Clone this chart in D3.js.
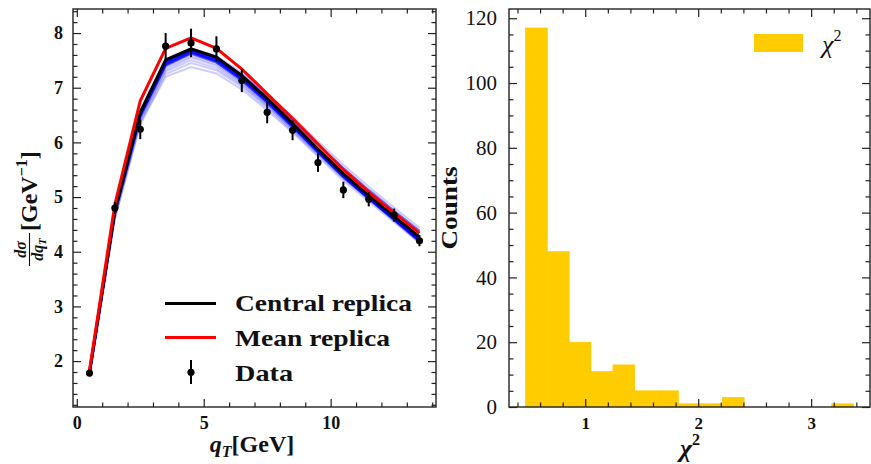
<!DOCTYPE html>
<html><head><meta charset="utf-8">
<script src="https://cdn.jsdelivr.net/npm/d3@7"></script>
<style>body{margin:0;background:#fff}</style>
</head><body>
<svg id="c" width="871" height="464" xmlns="http://www.w3.org/2000/svg"></svg>
<script>
// ---------------- data ----------------
const qT = [0.5, 1.5, 2.5, 3.5, 4.5, 5.5, 6.5, 7.5, 8.5, 9.5, 10.5, 11.5, 12.5, 13.5];
const dataY = [1.78, 4.80, 6.24, 7.76, 7.82, 7.71, 7.13, 6.55, 6.22, 5.63, 5.13, 4.96, 4.67, 4.20];
const dataErr = [0.05, 0.11, 0.18, 0.24, 0.26, 0.23, 0.21, 0.20, 0.18, 0.17, 0.15, 0.13, 0.12, 0.10];
const centralReplica = [1.80, 4.75, 6.55, 7.51, 7.71, 7.56, 7.22, 6.80, 6.35, 5.88, 5.43, 5.03, 4.65, 4.27];
const meanReplica = [1.83, 4.87, 6.76, 7.72, 7.91, 7.72, 7.34, 6.89, 6.44, 5.97, 5.50, 5.09, 4.71, 4.34];
// replicas lying close to the central one (dense core of the band)
const replica01 = [1.78, 4.72, 6.50, 7.45, 7.66, 7.50, 7.17, 6.75, 6.30, 5.84, 5.39, 4.99, 4.60, 4.21];
const replica02 = [1.76, 4.70, 6.47, 7.40, 7.62, 7.46, 7.13, 6.72, 6.28, 5.82, 5.37, 4.97, 4.58, 4.19];
const replica03 = [1.79, 4.73, 6.52, 7.47, 7.69, 7.53, 7.20, 6.78, 6.33, 5.87, 5.42, 5.02, 4.62, 4.23];
const replica06 = [1.81, 4.77, 6.56, 7.50, 7.70, 7.55, 7.24, 6.84, 6.41, 5.96, 5.53, 5.13, 4.75, 4.38];
const replica09 = [1.77, 4.71, 6.49, 7.42, 7.64, 7.48, 7.15, 6.74, 6.29, 5.83, 5.38, 4.98, 4.59, 4.20];
const replica11 = [1.80, 4.74, 6.53, 7.48, 7.70, 7.54, 7.21, 6.79, 6.34, 5.88, 5.43, 5.03, 4.64, 4.25];
const replica13 = [1.79, 4.73, 6.51, 7.46, 7.67, 7.52, 7.19, 6.77, 6.32, 5.85, 5.40, 5.00, 4.61, 4.22];
const replica14 = [1.78, 4.72, 6.49, 7.43, 7.65, 7.49, 7.16, 6.76, 6.31, 5.85, 5.41, 5.01, 4.62, 4.23];
// replicas further out (faint outer part of the band)
const replica04 = [1.74, 4.66, 6.42, 7.33, 7.55, 7.40, 7.08, 6.68, 6.25, 5.80, 5.36, 4.97, 4.59, 4.21];
const replica05 = [1.72, 4.62, 6.36, 7.25, 7.45, 7.32, 7.02, 6.63, 6.21, 5.77, 5.34, 4.96, 4.58, 4.20];
const replica07 = [1.83, 4.80, 6.58, 7.52, 7.72, 7.58, 7.27, 6.88, 6.46, 6.02, 5.59, 5.19, 4.81, 4.44];
const replica08 = [1.70, 4.60, 6.33, 7.20, 7.38, 7.26, 6.97, 6.59, 6.18, 5.74, 5.30, 4.92, 4.54, 4.16];
const replica10 = [1.75, 4.68, 6.45, 7.37, 7.58, 7.43, 7.10, 6.70, 6.26, 5.81, 5.36, 4.96, 4.57, 4.17];
const replica12 = [1.73, 4.64, 6.40, 7.30, 7.50, 7.36, 7.05, 6.66, 6.23, 5.79, 5.35, 4.96, 4.57, 4.18];
const coreReplicas = [replica01, replica02, replica03, replica06, replica09, replica11, replica13, replica14];
const outerReplicas = [replica04, replica05, replica07, replica08, replica10, replica12];

const chi2BinEdges = [0.470, 0.664, 0.858, 1.051, 1.245, 1.439, 1.632, 1.826, 2.020,
                      2.214, 2.407, 2.601, 2.795, 2.989, 3.182, 3.376];
const chi2Counts = [117, 48, 20, 11, 13, 5, 5, 1, 1, 3, 0, 0, 0, 0, 1];

const leftXTicks = [0, 5, 10];
const leftYTicks = [2, 3, 4, 5, 6, 7, 8];
const rightXTicks = [1, 2, 3];
const rightYTicks = [0, 20, 40, 60, 80, 100, 120];

// ---------------- layout ----------------
const SERIF = "'Liberation Serif','DejaVu Serif',serif";
const svg = d3.select("#c");
const BL = {x0: 73, x1: 436, y0: 9, y1: 407};
const BR = {x0: 509, x1: 870, y0: 9, y1: 407};
const xL = d3.scaleLinear([-0.15, 14.15], [BL.x0, BL.x1]);
const yL = d3.scaleLinear([1.16, 8.44], [BL.y1, BL.y0]);
const xR = d3.scaleLinear([0.325, 3.521], [BR.x0, BR.x1]);
const yR = d3.scaleLinear([0, 122.85], [BR.y1, BR.y0]);

function drawAxes(box, x, y, xMaj, xMin, yMaj, yMin, xFont, yFont) {
  const g = svg.append("g");
  const MAJ = 8, MIN = 4.5;
  const mk = (axis, tr, vals, size, labels, pad) => {
    const a = axis.tickValues(vals).tickSizeInner(-size).tickSizeOuter(0).tickPadding(pad)
      .tickFormat(labels ? d3.format("d") : () => "");
    const s = g.append("g").attr("transform", tr).call(a);
    s.select(".domain").remove();
    s.selectAll("line").attr("stroke", "#222").attr("stroke-width", 1.2);
    return s;
  };
  const xb = mk(d3.axisBottom(x), `translate(0,${box.y1})`, xMaj, MAJ, true, xFont.pad);
  xb.attr("font-family", SERIF).attr("font-size", xFont.size);
  xb.selectAll("text").attr("font-weight", xFont.weight).attr("fill", "#111");
  mk(d3.axisBottom(x), `translate(0,${box.y1})`, xMin, MIN, false, 0);
  mk(d3.axisTop(x), `translate(0,${box.y0})`, xMaj, MAJ, false, 0);
  mk(d3.axisTop(x), `translate(0,${box.y0})`, xMin, MIN, false, 0);
  const yl = mk(d3.axisLeft(y), `translate(${box.x0},0)`, yMaj, MAJ, true, yFont.pad);
  yl.attr("font-family", SERIF).attr("font-size", yFont.size);
  yl.selectAll("text").attr("font-weight", yFont.weight).attr("fill", "#111");
  mk(d3.axisLeft(y), `translate(${box.x0},0)`, yMin, MIN, false, 0);
  mk(d3.axisRight(y), `translate(${box.x1},0)`, yMaj, MAJ, false, 0);
  mk(d3.axisRight(y), `translate(${box.x1},0)`, yMin, MIN, false, 0);
  g.append("rect").attr("x", box.x0).attr("y", box.y0)
    .attr("width", box.x1 - box.x0).attr("height", box.y1 - box.y0)
    .attr("fill", "none").attr("stroke", "#222").attr("stroke-width", 1.4);
}

// ---------------- left panel ----------------
svg.append("clipPath").attr("id", "clipL").append("rect")
  .attr("x", BL.x0).attr("y", BL.y0).attr("width", BL.x1 - BL.x0).attr("height", BL.y1 - BL.y0);
const pl = svg.append("g").attr("clip-path", "url(#clipL)");
const line = d3.line().x((d, i) => xL(qT[i])).y(d => yL(d));

pl.selectAll("path.outer").data(outerReplicas).join("path").attr("class", "outer")
  .attr("d", line).attr("fill", "none").attr("stroke", "#0000ff")
  .attr("stroke-opacity", 0.2).attr("stroke-width", 2);
pl.selectAll("path.core").data(coreReplicas).join("path").attr("class", "core")
  .attr("d", line).attr("fill", "none").attr("stroke", "#0000ff")
  .attr("stroke-opacity", 0.6).attr("stroke-width", 2.2);
pl.append("path").attr("d", line(centralReplica)).attr("fill", "none")
  .attr("stroke", "#000").attr("stroke-width", 3);
pl.append("path").attr("d", line(meanReplica)).attr("fill", "none")
  .attr("stroke", "#ff0000").attr("stroke-width", 3);
pl.selectAll("line.err").data(qT).join("line").attr("class", "err")
  .attr("x1", d => xL(d)).attr("x2", d => xL(d))
  .attr("y1", (d, i) => yL(dataY[i] - dataErr[i])).attr("y2", (d, i) => yL(dataY[i] + dataErr[i]))
  .attr("stroke", "#000").attr("stroke-width", 2);
pl.selectAll("circle.pt").data(qT).join("circle").attr("class", "pt")
  .attr("cx", d => xL(d)).attr("cy", (d, i) => yL(dataY[i])).attr("r", 3.6).attr("fill", "#000");

drawAxes(BL, xL, yL, leftXTicks,
  d3.range(1, 15).filter(v => v % 5 !== 0),
  leftYTicks,
  d3.range(1.2, 8.41, 0.2).filter(v => Math.abs(v - Math.round(v)) > 0.05),
  {size: 18, weight: "bold", pad: 9}, {size: 18, weight: "bold", pad: 10});

// legend (left)
const lg = svg.append("g").attr("font-family", SERIF).attr("font-weight", "bold")
  .attr("font-size", 23).attr("fill", "#111");
lg.append("line").attr("x1", 165).attr("x2", 216).attr("y1", 303.5).attr("y2", 303.5)
  .attr("stroke", "#000").attr("stroke-width", 3);
lg.append("line").attr("x1", 165).attr("x2", 216).attr("y1", 337.5).attr("y2", 337.5)
  .attr("stroke", "#ff0000").attr("stroke-width", 3);
lg.append("line").attr("x1", 191).attr("x2", 191).attr("y1", 360).attr("y2", 384)
  .attr("stroke", "#000").attr("stroke-width", 2);
lg.append("circle").attr("cx", 191).attr("cy", 372.3).attr("r", 3.6).attr("fill", "#000");
lg.append("text").attr("x", 235).attr("y", 311).text("Central replica")
  .attr("textLength", 177).attr("lengthAdjust", "spacingAndGlyphs");
lg.append("text").attr("x", 235).attr("y", 345.5).text("Mean replica")
  .attr("textLength", 155).attr("lengthAdjust", "spacingAndGlyphs");
lg.append("text").attr("x", 235).attr("y", 380.5).text("Data")
  .attr("textLength", 58).attr("lengthAdjust", "spacingAndGlyphs");

// x label (left)
const xlab = svg.append("text").attr("x", 252).attr("y", 452).attr("text-anchor", "middle")
  .attr("font-family", SERIF).attr("font-weight", "bold").attr("font-size", 24).attr("fill", "#111");
xlab.append("tspan").attr("font-style", "italic").text("q");
xlab.append("tspan").attr("font-style", "italic").attr("font-size", 16).attr("dy", 5).text("T");
xlab.append("tspan").attr("dy", -5).text("[GeV]");

// y label (left)
const yg = svg.append("g").attr("transform", "translate(37,250) rotate(-90)")
  .attr("font-family", SERIF).attr("fill", "#111");
yg.append("text").attr("x", 0.5).attr("y", -11).attr("text-anchor", "middle")
  .attr("font-size", 16).attr("font-style", "italic").attr("font-weight", "bold").text("dσ");
yg.append("line").attr("x1", -16).attr("x2", 17).attr("y1", -7.5).attr("y2", -7.5)
  .attr("stroke", "#111").attr("stroke-width", 1.1);
const den = yg.append("text").attr("x", 0.5).attr("y", 6).attr("text-anchor", "middle")
  .attr("font-size", 16).attr("font-style", "italic").attr("font-weight", "bold");
den.append("tspan").text("dq");
den.append("tspan").attr("font-size", 11).attr("dy", 3).text("T");
const gev = yg.append("text").attr("x", 19).attr("y", 0)
  .attr("font-size", 24).attr("font-weight", "bold");
gev.append("tspan").text("[GeV");
gev.append("tspan").attr("font-size", 16).attr("dy", -10).text("−1");
gev.append("tspan").attr("dy", 10).text("]");

// ---------------- right panel ----------------
const pr = svg.append("g");
pr.selectAll("rect.bar").data(chi2Counts).join("rect").attr("class", "bar")
  .attr("x", (d, i) => xR(chi2BinEdges[i]))
  .attr("width", (d, i) => xR(chi2BinEdges[i + 1]) - xR(chi2BinEdges[i]))
  .attr("y", d => yR(d)).attr("height", d => yR(0) - yR(d))
  .attr("fill", "#ffcc00").attr("stroke", "#ffcc00").attr("stroke-width", 0.6);

drawAxes(BR, xR, yR, rightXTicks,
  d3.range(0.4, 3.41, 0.2).filter(v => Math.abs(v - Math.round(v)) > 0.05),
  rightYTicks,
  d3.range(5, 123, 5).filter(v => v % 20 !== 0),
  {size: 17, weight: "bold", pad: 10}, {size: 21, weight: "normal", pad: 12});

// legend (right)
svg.append("rect").attr("x", 754).attr("y", 34).attr("width", 49).attr("height", 18)
  .attr("fill", "#ffcc00");
const lr = svg.append("text").attr("x", 822).attr("y", 53).attr("font-family", SERIF)
  .attr("font-size", 26).attr("fill", "#111");
lr.append("tspan").attr("font-style", "italic").text("χ");
lr.append("tspan").attr("font-size", 16).attr("dy", -12).text("2");

// x label (right)
const xr = svg.append("text").attr("x", 690).attr("y", 457).attr("text-anchor", "middle")
  .attr("font-family", SERIF).attr("font-size", 26).attr("fill", "#111").attr("font-weight", "bold");
xr.append("tspan").attr("font-style", "italic").text("χ");
xr.append("tspan").attr("font-size", 16).attr("dy", -12).text("2");

// y label (right)
svg.append("text").attr("transform", "translate(457,208) rotate(-90)")
  .attr("text-anchor", "middle").attr("font-family", SERIF).attr("font-weight", "bold")
  .attr("font-size", 24).attr("fill", "#111").text("Counts")
  .attr("textLength", 83).attr("lengthAdjust", "spacingAndGlyphs");
</script>
</body></html>
